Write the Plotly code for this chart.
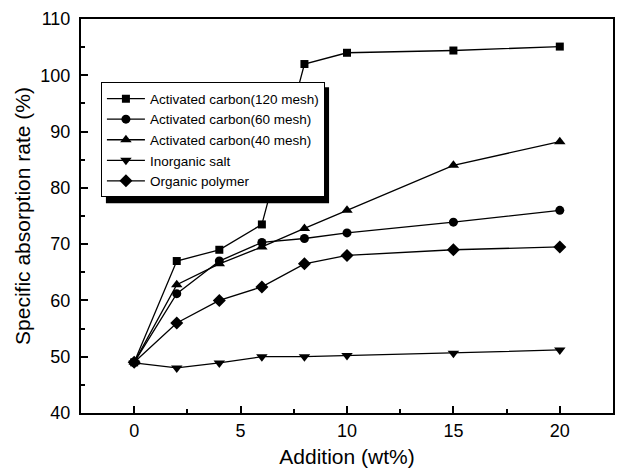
import plotly.graph_objects as go

addition = [0, 2, 4, 6, 8, 10, 15, 20]
ac120 = [49, 67, 69, 73.5, 102, 104, 104.4, 105.1]
ac60 = [49, 61.2, 67, 70.3, 71, 72, 73.9, 76]
ac40 = [49, 62.8, 66.5, 69.5, 72.8, 76, 84, 88.2]
inorganic = [48.9, 48, 48.9, 50, 50, 50.2, 50.6, 51.2]
organic = [49, 56, 60, 62.4, 66.5, 68, 69, 69.5]

series = [
    ("Activated carbon(120 mesh)", ac120, "square", 8),
    ("Activated carbon(60 mesh)", ac60, "circle", 9),
    ("Activated carbon(40 mesh)", ac40, "triangle-up", 10),
    ("Inorganic salt", inorganic, "triangle-down", 10),
    ("Organic polymer", organic, "diamond", 10),
]

fig = go.Figure()
for name, ys, sym, sz in series:
    fig.add_trace(go.Scatter(
        x=addition, y=ys, name=name, mode="lines+markers",
        line=dict(color="black", width=1.3),
        marker=dict(symbol=sym, size=sz, color="black"),
    ))

font = "Liberation Sans, Arial, sans-serif"
L, R, T, B = 81, 9, 15, 63
W, H = 624, 476
pw, ph = W - L - R, H - T - B


def px_x(p):
    return (p - L) / pw


def px_y(p):
    return (H - B - p) / ph


# legend drop shadow
fig.add_shape(type="rect", xref="paper", yref="paper", layer="above",
              x0=px_x(106), x1=px_x(330), y0=px_y(201), y1=px_y(84),
              fillcolor="black", line=dict(width=0))

fig.update_layout(
    width=W, height=H,
    margin=dict(l=L, r=R, t=T, b=B),
    paper_bgcolor="white", plot_bgcolor="white",
    font=dict(family=font, color="black", size=15),
    showlegend=True,
    legend=dict(
        x=px_x(101), y=px_y(79), xanchor="left", yanchor="top",
        bgcolor="white", bordercolor="black", borderwidth=1,
        font=dict(size=13.5, family=font), tracegroupgap=0,
        itemwidth=38,
    ),
)
fig.update_xaxes(
    range=[-2.5, 22.5], tickvals=[0, 5, 10, 15, 20],
    ticks="inside", ticklen=7, tickwidth=1.5, tickcolor="black",
    minor=dict(ticks="inside", ticklen=4, tickwidth=1.5, dtick=2.5, tick0=0, tickcolor="black"),
    showline=True, linecolor="black", linewidth=2, mirror=True,
    showgrid=False, zeroline=False,
    title=dict(text="Addition (wt%)", font=dict(size=21), standoff=10),
    tickfont=dict(size=18),
)
fig.update_yaxes(
    range=[40, 110], dtick=10,
    ticks="inside", ticklen=7, tickwidth=1.5, tickcolor="black",
    minor=dict(ticks="inside", ticklen=4, tickwidth=1.5, dtick=5, tickcolor="black"),
    showline=True, linecolor="black", linewidth=2, mirror=True,
    showgrid=False, zeroline=False, ticklabelstandoff=5,
    title=dict(text="Specific absorption rate (%)", font=dict(size=21), standoff=4),
    tickfont=dict(size=18),
)
fig.write_html("out.html")
